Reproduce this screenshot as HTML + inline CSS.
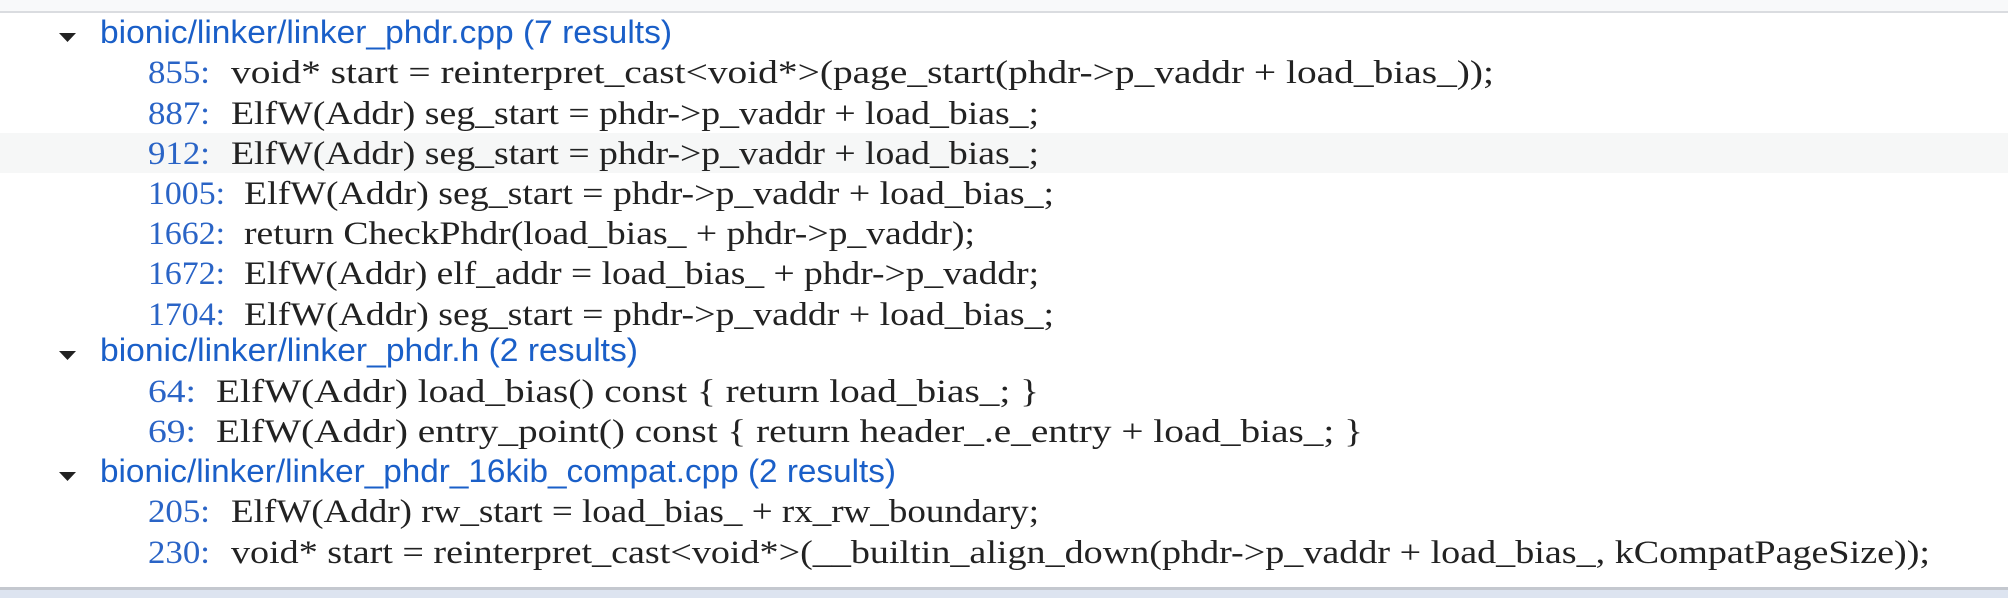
<!DOCTYPE html>
<html><head><meta charset="utf-8"><style>
html,body{margin:0;padding:0;width:2008px;height:598px;overflow:hidden;background:#fff}
svg{display:block}
.h{font-family:"Liberation Sans",sans-serif;font-size:32px;fill:#1a5fc8}
.n{font-family:"Liberation Serif","Noto Serif CJK SC",serif;font-size:33px;fill:#2a64c6}
.c{font-family:"Liberation Serif","Noto Serif CJK SC",serif;font-size:33px;fill:#222}
</style></head><body>
<svg width="2008" height="598" xmlns="http://www.w3.org/2000/svg">
<rect x="0" y="0" width="2008" height="11" fill="#f8f9fa"/>
<rect x="0" y="11" width="2008" height="2" fill="#dadce0"/>
<rect x="0" y="133" width="2008" height="40" fill="#f6f7f7"/>
<rect x="0" y="587" width="2008" height="3" fill="#c4c8cf"/>
<rect x="0" y="590" width="2008" height="8" fill="#dde4f0"/>
<polygon points="59,33 76,33 67.5,42" fill="#222"/>
<polygon points="59,351 76,351 67.5,360" fill="#222"/>
<polygon points="59,472 76,472 67.5,481" fill="#222"/>
<text class="h" x="100" y="43" textLength="572" lengthAdjust="spacingAndGlyphs">bionic/linker/linker_phdr.cpp (7 results)</text>
<text class="h" x="100" y="361" textLength="538" lengthAdjust="spacingAndGlyphs">bionic/linker/linker_phdr.h (2 results)</text>
<text class="h" x="100" y="482" textLength="796" lengthAdjust="spacingAndGlyphs">bionic/linker/linker_phdr_16kib_compat.cpp (2 results)</text>

<text class="n" x="148" y="83" textLength="62" lengthAdjust="spacingAndGlyphs">855:</text>
<text class="c" x="231" y="83" textLength="1263" lengthAdjust="spacingAndGlyphs">void* start = reinterpret_cast&lt;void*&gt;(page_start(phdr-&gt;p_vaddr + load_bias_));</text>
<text class="n" x="148" y="124" textLength="62" lengthAdjust="spacingAndGlyphs">887:</text>
<text class="c" x="231" y="124" textLength="808" lengthAdjust="spacingAndGlyphs">ElfW(Addr) seg_start = phdr-&gt;p_vaddr + load_bias_;</text>
<text class="n" x="148" y="164" textLength="62" lengthAdjust="spacingAndGlyphs">912:</text>
<text class="c" x="231" y="164" textLength="808" lengthAdjust="spacingAndGlyphs">ElfW(Addr) seg_start = phdr-&gt;p_vaddr + load_bias_;</text>
<text class="n" x="148" y="204" textLength="77" lengthAdjust="spacingAndGlyphs">1005:</text>
<text class="c" x="244" y="204" textLength="810" lengthAdjust="spacingAndGlyphs">ElfW(Addr) seg_start = phdr-&gt;p_vaddr + load_bias_;</text>
<text class="n" x="148" y="244" textLength="77" lengthAdjust="spacingAndGlyphs">1662:</text>
<text class="c" x="244" y="244" textLength="731" lengthAdjust="spacingAndGlyphs">return CheckPhdr(load_bias_ + phdr-&gt;p_vaddr);</text>
<text class="n" x="148" y="284" textLength="77" lengthAdjust="spacingAndGlyphs">1672:</text>
<text class="c" x="244" y="284" textLength="795" lengthAdjust="spacingAndGlyphs">ElfW(Addr) elf_addr = load_bias_ + phdr-&gt;p_vaddr;</text>
<text class="n" x="148" y="325" textLength="77" lengthAdjust="spacingAndGlyphs">1704:</text>
<text class="c" x="244" y="325" textLength="810" lengthAdjust="spacingAndGlyphs">ElfW(Addr) seg_start = phdr-&gt;p_vaddr + load_bias_;</text>

<text class="n" x="148" y="402" textLength="48" lengthAdjust="spacingAndGlyphs">64:</text>
<text class="c" x="216" y="402" textLength="823" lengthAdjust="spacingAndGlyphs">ElfW(Addr) load_bias() const { return load_bias_; }</text>
<text class="n" x="148" y="442" textLength="48" lengthAdjust="spacingAndGlyphs">69:</text>
<text class="c" x="216" y="442" textLength="1147" lengthAdjust="spacingAndGlyphs">ElfW(Addr) entry_point() const { return header_.e_entry + load_bias_; }</text>

<text class="n" x="148" y="522" textLength="62" lengthAdjust="spacingAndGlyphs">205:</text>
<text class="c" x="231" y="522" textLength="808" lengthAdjust="spacingAndGlyphs">ElfW(Addr) rw_start = load_bias_ + rx_rw_boundary;</text>
<text class="n" x="148" y="563" textLength="62" lengthAdjust="spacingAndGlyphs">230:</text>
<text class="c" x="231" y="563" textLength="1699" lengthAdjust="spacingAndGlyphs">void* start = reinterpret_cast&lt;void*&gt;(__builtin_align_down(phdr-&gt;p_vaddr + load_bias_, kCompatPageSize));</text>
</svg>
</body></html>
